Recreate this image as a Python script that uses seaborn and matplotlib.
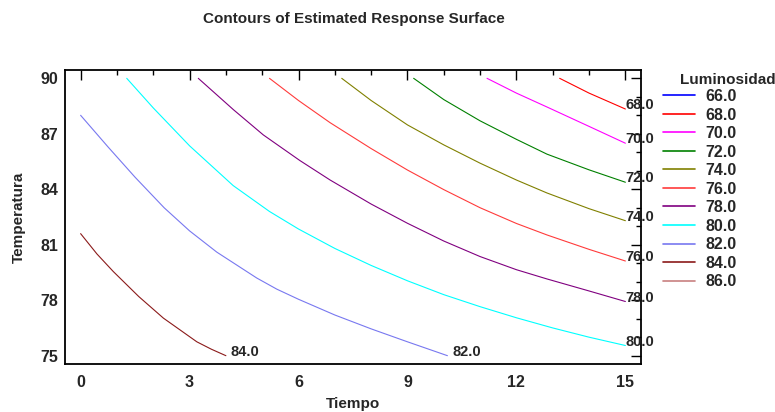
import matplotlib
matplotlib.use("Agg")
import matplotlib.pyplot as plt
from matplotlib.lines import Line2D
from matplotlib.ticker import MultipleLocator
import pandas as pd
import seaborn as sns

# contour levels shown in the legend
levels = [66.0, 68.0, 70.0, 72.0, 74.0, 76.0, 78.0, 80.0, 82.0, 84.0, 86.0]
level_colors = ['#0000ff', '#ff0000', '#ff00ff', '#008000', '#808000', '#ff3b3b',
                '#800080', '#00ffff', '#7878f0', '#8b1a1a', '#c88080']

# contour lines (Tiempo, Temperatura)
tiempo_68 = [13.19, 14.0, 15.0]
temp_68 = [90.0, 89.2, 88.34]
tiempo_70 = [11.19, 12.0, 12.84, 14.0, 15.0]
temp_70 = [90.0, 89.2, 88.45, 87.4, 86.49]
tiempo_72 = [9.17, 10.0, 11.0, 12.0, 12.84, 14.0, 15.0]
temp_72 = [90.0, 88.85, 87.7, 86.7, 85.9, 85.05, 84.38]
tiempo_74 = [7.19, 8.0, 9.0, 10.0, 11.0, 12.0, 12.84, 14.0, 15.0]
temp_74 = [90.0, 88.8, 87.48, 86.4, 85.41, 84.5, 83.8, 82.95, 82.3]
tiempo_76 = [5.2, 6.0, 6.87, 8.0, 9.0, 10.0, 11.0, 12.0, 12.84, 14.0, 15.0]
temp_76 = [90.0, 88.8, 87.6, 86.2, 85.04, 83.98, 83.0, 82.15, 81.53, 80.75, 80.12]
tiempo_78 = [3.24, 4.21, 5.03, 6.04, 6.87, 8.0, 9.0, 10.0, 11.0, 12.0, 12.84, 14.0, 15.0]
temp_78 = [90.0, 88.3, 86.94, 85.55, 84.5, 83.2, 82.16, 81.2, 80.36, 79.65, 79.15, 78.5, 77.93]
tiempo_80 = [1.27, 2.0, 3.0, 4.2, 5.2, 6.0, 7.0, 8.0, 9.0, 10.0, 11.0, 12.0, 13.0, 14.0, 15.0]
temp_80 = [90.0, 88.4, 86.35, 84.2, 82.8, 81.85, 80.8, 79.88, 79.05, 78.3, 77.65, 77.05, 76.5, 76.0, 75.55]
tiempo_82 = [0.0, 0.75, 1.5, 2.3, 3.0, 3.75, 4.85, 5.4, 6.0, 7.0, 8.0, 9.0, 10.1]
temp_82 = [88.0, 86.3, 84.65, 83.0, 81.75, 80.6, 79.2, 78.6, 78.05, 77.2, 76.45, 75.75, 75.0]
tiempo_84 = [0.0, 0.45, 0.9, 1.6, 2.28, 3.2, 3.6, 4.0]
temp_84 = [81.6, 80.5, 79.55, 78.2, 77.03, 75.75, 75.35, 75.0]

lines = {
    68.0: (tiempo_68, temp_68),
    70.0: (tiempo_70, temp_70),
    72.0: (tiempo_72, temp_72),
    74.0: (tiempo_74, temp_74),
    76.0: (tiempo_76, temp_76),
    78.0: (tiempo_78, temp_78),
    80.0: (tiempo_80, temp_80),
    82.0: (tiempo_82, temp_82),
    84.0: (tiempo_84, temp_84),
}

rows = []
for lev, (xs, ys) in lines.items():
    for i, (x, y) in enumerate(zip(xs, ys)):
        rows.append({'Tiempo': x, 'Temperatura': y, 'level': lev, 'order': i})
df = pd.DataFrame(rows)
palette = dict(zip(levels, level_colors))

sns.set_style('white')
plt.rcParams['font.family'] = ['Liberation Sans', 'DejaVu Sans']
plt.rcParams['font.weight'] = 'bold'

fig = plt.figure(figsize=(7.75, 4.12), dpi=100)
ax = fig.add_axes([65 / 775, 1 - 364 / 412, 576 / 775, 294 / 412])

sns.lineplot(data=df, x='Tiempo', y='Temperatura', hue='level', palette=palette,
             units='level', estimator=None, sort=False, legend=False, lw=0.8, ax=ax)

# contour labels at the end of each line
for lev, (xs, ys) in lines.items():
    dx = 0 if xs[-1] >= 15 else 5
    ax.annotate(f'{lev:.1f}', (xs[-1], ys[-1]), xytext=(dx, 0), textcoords='offset pixels',
                ha='left', va='baseline', fontsize=10.5, fontweight='bold', clip_on=False, zorder=5)

ax.set_xlim(-0.43, 15.43)
ax.set_ylim(74.55, 90.45)
ax.xaxis.set_major_locator(MultipleLocator(3))
ax.xaxis.set_minor_locator(MultipleLocator(1))
ax.yaxis.set_major_locator(MultipleLocator(3))
ax.yaxis.set_minor_locator(MultipleLocator(1))
ax.tick_params(which='both', direction='in', top=True, right=True, width=1, color='black',
               labelsize=11.5)
ax.tick_params(which='major', length=7)
ax.tick_params(which='minor', length=3.5)
ax.tick_params(axis='x', pad=8)
ax.tick_params(axis='y', pad=5)
for lab in ax.get_xticklabels() + ax.get_yticklabels():
    lab.set_fontweight('bold')
for sp in ax.spines.values():
    sp.set_linewidth(1.3)
    sp.set_color('black')

ax.set_xlabel('Tiempo', fontsize=11, fontweight='bold', labelpad=5)
ax.set_ylabel('Temperatura', fontsize=11, fontweight='bold', labelpad=10)

fig.text(354 / 775, 1 - 19 / 412, 'Contours of Estimated Response Surface',
         ha='center', va='center', fontsize=11, fontweight='bold')

handles = [Line2D([], [], color=c, lw=1.2) for c in level_colors]
fig.legend(handles, [f'{v:.1f}' for v in levels], loc='upper left',
           bbox_to_anchor=(663 / 775, 1 - 89 / 412), frameon=False, fontsize=11.5,
           handlelength=2.0, handletextpad=0.65, labelspacing=0.22,
           borderpad=0, borderaxespad=0)
fig.text(680 / 775, 1 - 79.5 / 412, 'Luminosidad', ha='left', va='center',
         fontsize=11, fontweight='bold')

fig.savefig('out.png', dpi=100)
